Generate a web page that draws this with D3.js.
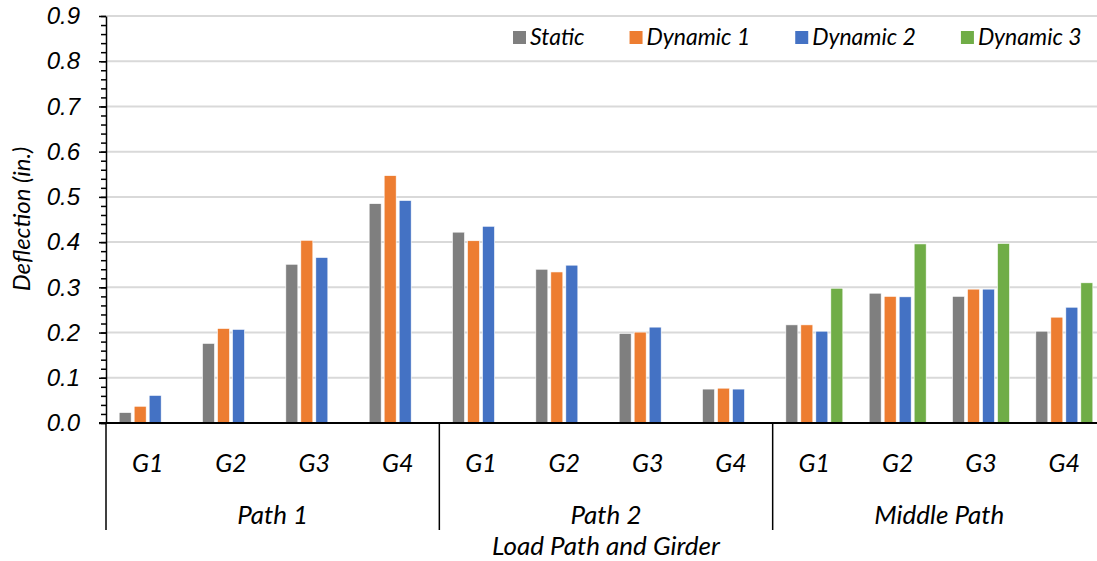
<!DOCTYPE html>
<html>
<head>
<meta charset="utf-8">
<script src="https://cdn.jsdelivr.net/npm/d3@7"></script>
<style>
  body { margin: 0; background: #fff; }
  svg { display: block; font-family: Lato, "Open Sans", sans-serif; font-style: italic; }
  .grid line { stroke: #d9d9d9; stroke-width: 2; }
  .axis-y path, .axis-y line { stroke: #000; stroke-width: 1.5; }
  .axis-y text { font-size: 24px; fill: #000; }
</style>
</head>
<body>
<div id="chart"></div>
<script>
// Data
var paths = ["Path 1", "Path 2", "Middle Path"];
var girders = ["G1", "G2", "G3", "G4"];
var series = ["Static", "Dynamic 1", "Dynamic 2", "Dynamic 3"];
var colors = ["#7f7f7f", "#ed7d31", "#4472c4", "#70ad47"];

var staticVals   = [0.023, 0.176, 0.351, 0.485,  0.422, 0.340, 0.198, 0.075,  0.217, 0.287, 0.280, 0.203];
var dynamic1Vals = [0.037, 0.209, 0.404, 0.547,  0.403, 0.334, 0.201, 0.077,  0.217, 0.280, 0.296, 0.234];
var dynamic2Vals = [0.061, 0.207, 0.366, 0.492,  0.435, 0.349, 0.212, 0.075,  0.203, 0.279, 0.296, 0.256];
var dynamic3Vals = [null, null, null, null,      null, null, null, null,      0.298, 0.396, 0.397, 0.310];

var yMajorTicks = [0, 0.1, 0.2, 0.3, 0.4, 0.5, 0.6, 0.7, 0.8, 0.9];

var W = 1097, H = 561;
var margin = {top: 16, left: 106, bottom: 138};
var plotRight = 1106;   // the plot area runs past the right edge of the picture
var baseY = H - margin.bottom;

var svg = d3.select("#chart").append("svg")
    .attr("width", W)
    .attr("height", H);

// one key per (path, girder) pair
var cats = [];
paths.forEach(function(p) {
  girders.forEach(function(g) { cats.push(p + "|" + g); });
});

var x0 = d3.scaleBand().domain(cats).range([margin.left, plotRight]).padding(0);
var pad = x0.bandwidth() * 0.158;
var x1 = d3.scaleBand().domain(series).range([pad, x0.bandwidth() - pad]).paddingInner(0.2);
var y = d3.scaleLinear().domain([0, 0.9]).range([baseY, margin.top]);

// Gridlines
svg.append("g").attr("class", "grid")
  .selectAll("line")
  .data(yMajorTicks.slice(1))
  .enter().append("line")
    .attr("x1", margin.left)
    .attr("x2", plotRight)
    .attr("y1", function(d) { return y(d); })
    .attr("y2", function(d) { return y(d); });

// Bars
var allVals = [staticVals, dynamic1Vals, dynamic2Vals, dynamic3Vals];
var bars = [];
series.forEach(function(s, si) {
  allVals[si].forEach(function(v, ci) {
    if (v != null) bars.push({cat: cats[ci], series: s, color: colors[si], value: v});
  });
});

svg.append("g")
  .selectAll("rect")
  .data(bars)
  .enter().append("rect")
    .attr("x", function(d) { return x0(d.cat) + x1(d.series); })
    .attr("y", function(d) { return y(d.value); })
    .attr("width", x1.bandwidth())
    .attr("height", function(d) { return baseY - y(d.value); })
    .attr("fill", function(d) { return d.color; })
    .attr("stroke", "#fff")
    .attr("stroke-width", 0.6);

// Y axis, minor ticks every 0.02
svg.append("g")
  .attr("class", "axis-y")
  .attr("transform", "translate(" + margin.left + ",0)")
  .call(d3.axisLeft(y).tickValues(d3.range(0, 46).map(function(i) { return i * 0.02; }))
        .tickSize(5).tickFormat("").tickSizeOuter(0));

svg.append("g")
  .attr("class", "axis-y")
  .attr("transform", "translate(" + margin.left + ",0)")
  .call(d3.axisLeft(y).tickValues(yMajorTicks).tickSize(7).tickPadding(19)
        .tickFormat(d3.format(".1f")).tickSizeOuter(0))
  .call(function(g) { g.select(".domain").remove(); });

// Category axis
svg.append("line")
  .attr("x1", margin.left - 7).attr("x2", plotRight)
  .attr("y1", baseY).attr("y2", baseY)
  .attr("stroke", "#000").attr("stroke-width", 2);

var sepX = paths.map(function(p) { return x0(p + "|G1"); });
sepX.push(plotRight);
svg.append("g")
  .selectAll("line")
  .data(sepX)
  .enter().append("line")
    .attr("x1", function(d) { return d; })
    .attr("x2", function(d) { return d; })
    .attr("y1", baseY)
    .attr("y2", baseY + 107)
    .attr("stroke", "#000")
    .attr("stroke-width", 1.5);

svg.append("g")
  .selectAll("text")
  .data(cats)
  .enter().append("text")
    .attr("x", function(d) { return x0(d) + x0.bandwidth() / 2; })
    .attr("y", baseY + 40)
    .attr("dy", "0.35em")
    .attr("text-anchor", "middle")
    .attr("font-size", 25)
    .text(function(d) { return d.split("|")[1]; });

svg.append("g")
  .selectAll("text")
  .data(paths)
  .enter().append("text")
    .attr("x", function(d) { return x0(d + "|G1") + x0.bandwidth() * 2; })
    .attr("y", baseY + 92)
    .attr("dy", "0.35em")
    .attr("text-anchor", "middle")
    .attr("font-size", 26)
    .text(function(d) { return d; });

// Axis titles
svg.append("text")
  .attr("x", 606)
  .attr("y", 546)
  .attr("dy", "0.35em")
  .attr("text-anchor", "middle")
  .attr("font-size", 26)
  .text("Load Path and Girder");

svg.append("text")
  .attr("transform", "translate(22,219) rotate(-90)")
  .attr("dy", "0.35em")
  .attr("text-anchor", "middle")
  .attr("font-size", 24)
  .text("Deflection (in.)");

// Legend
var legend = svg.append("g");
var lx = 513;
series.forEach(function(s, i) {
  legend.append("rect")
    .attr("x", lx).attr("y", 31)
    .attr("width", 13).attr("height", 13)
    .attr("fill", colors[i]);
  var t = legend.append("text")
    .attr("x", lx + 17).attr("y", 37)
    .attr("dy", "0.35em")
    .attr("font-size", 23)
    .text(s);
  lx += 17 + t.node().getComputedTextLength() + 45;
});
</script>
</body>
</html>
